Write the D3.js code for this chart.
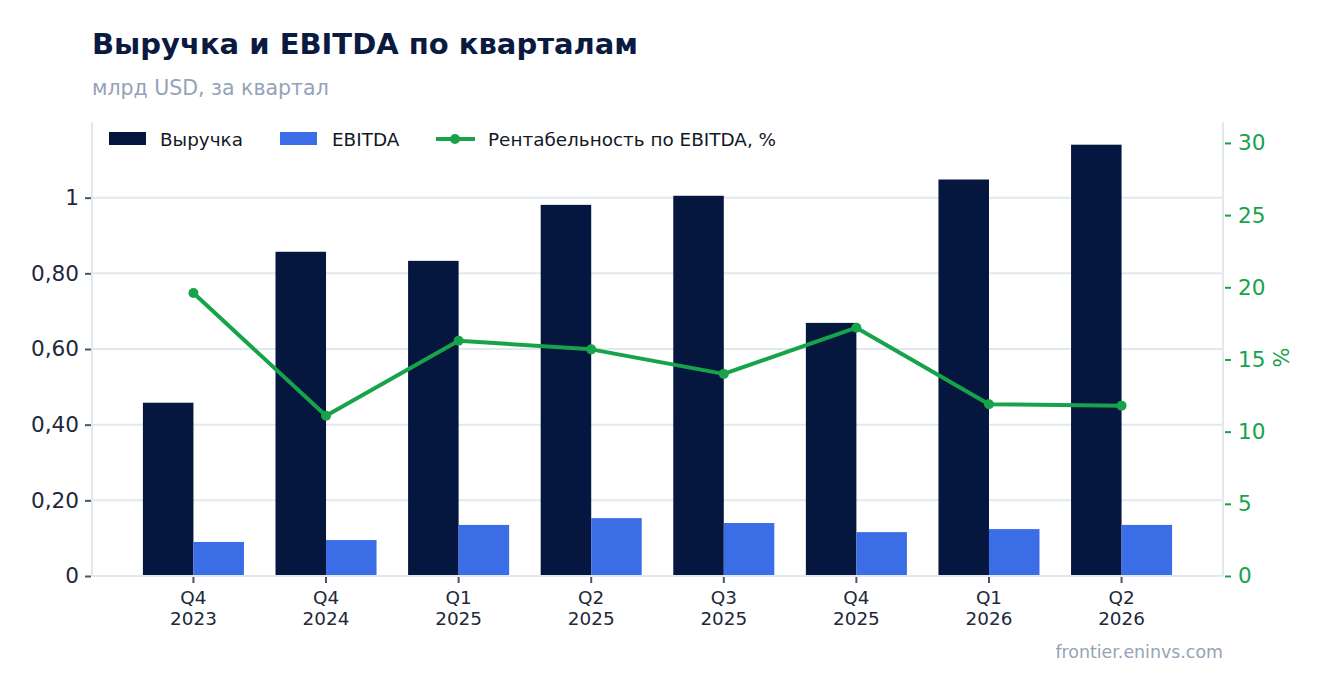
<!DOCTYPE html>
<html>
<head>
<meta charset="utf-8">
<script src="https://cdn.jsdelivr.net/npm/d3@7"></script>
<style>
  body { margin: 0; background: #fff; }
  svg text { font-family: "DejaVu Sans", sans-serif; }
</style>
</head>
<body>
<div id="chart"></div>
<script>
// data
const quarters = ["Q4", "Q4", "Q1", "Q2", "Q3", "Q4", "Q1", "Q2"];
const years = ["2023", "2024", "2025", "2025", "2025", "2025", "2026", "2026"];
const revenue = [0.458, 0.857, 0.833, 0.981, 1.005, 0.669, 1.048, 1.140];
const ebitda = [0.090, 0.095, 0.135, 0.153, 0.140, 0.116, 0.124, 0.135];
const margin = [19.6, 11.1, 16.3, 15.7, 14.0, 17.2, 11.9, 11.8];
const leftTicks = [0, 0.2, 0.4, 0.6, 0.8, 1];
const leftTickLabels = ["0", "0,20", "0,40", "0,60", "0,80", "1"];
const rightTicks = [0, 5, 10, 15, 20, 25, 30];

// colours
const navy = "#05163f";
const blue = "#3b6de7";
const green = "#16a34a";
const grid = "#e2e8f0";
const grey = "#94a3b8";
const ink = "#1e293b";

const W = 1323, H = 693;
const plot = { left: 92, right: 1223, top: 122, bottom: 576 };

const svg = d3.select("#chart").append("svg")
  .attr("width", W).attr("height", H);

// title
svg.append("text").attr("x", 92).attr("y", 54)
  .style("font-size", "29px").style("font-weight", "bold").style("fill", "#0b1a40")
  .text("Выручка и EBITDA по кварталам");
svg.append("text").attr("x", 92).attr("y", 95)
  .style("font-size", "20.5px").style("fill", grey)
  .text("млрд USD, за квартал");

const keys = quarters.map((q, i) => q + " " + years[i] + "#" + i);

const x = d3.scaleBand()
  .domain(keys)
  .range([plot.left, plot.right])
  .paddingInner(0.238)
  .paddingOuter(0.384);

const xSub = d3.scaleBand()
  .domain(["rev", "ebitda"])
  .range([0, x.bandwidth()]);

const y = d3.scaleLinear().domain([0, 1.2]).range([plot.bottom, plot.top]);
const y2 = d3.scaleLinear().domain([0, 31.45]).range([plot.bottom, plot.top]);

// gridlines
svg.append("g").selectAll("line")
  .data(leftTicks.filter(d => d > 0))
  .enter().append("line")
  .attr("x1", plot.left).attr("x2", plot.right)
  .attr("y1", d => y(d)).attr("y2", d => y(d))
  .attr("stroke", grid).attr("stroke-width", 2);

// axis lines
svg.append("line").attr("x1", plot.left).attr("x2", plot.left)
  .attr("y1", plot.top).attr("y2", plot.bottom)
  .attr("stroke", grid).attr("stroke-width", 2);
svg.append("line").attr("x1", plot.right).attr("x2", plot.right)
  .attr("y1", plot.top).attr("y2", plot.bottom)
  .attr("stroke", grid).attr("stroke-width", 2);

// bars
const groups = svg.append("g").selectAll("g")
  .data(keys)
  .enter().append("g")
  .attr("transform", d => `translate(${x(d)},0)`);

groups.append("rect")
  .attr("x", xSub("rev"))
  .attr("width", xSub.bandwidth())
  .attr("y", (d, i) => y(revenue[i]))
  .attr("height", (d, i) => y(0) - y(revenue[i]))
  .attr("fill", navy);

groups.append("rect")
  .attr("x", xSub("ebitda"))
  .attr("width", xSub.bandwidth())
  .attr("y", (d, i) => y(ebitda[i]))
  .attr("height", (d, i) => y(0) - y(ebitda[i]))
  .attr("fill", blue);

// bottom axis line
svg.append("line").attr("x1", plot.left).attr("x2", plot.right)
  .attr("y1", plot.bottom).attr("y2", plot.bottom)
  .attr("stroke", grid).attr("stroke-width", 2);

// x axis
const xAxis = svg.append("g")
  .attr("transform", `translate(0,${plot.bottom + 1})`)
  .call(d3.axisBottom(x).tickSize(6).tickSizeOuter(0).tickFormat(""));
xAxis.select(".domain").remove();
xAxis.selectAll(".tick line").attr("stroke", "#475569").attr("stroke-width", 2);
xAxis.selectAll(".tick").each(function (d, i) {
  const t = d3.select(this).append("text")
    .attr("fill", ink).style("font-size", "18.4px").attr("text-anchor", "middle");
  t.append("tspan").attr("x", 0).attr("y", 27).text(quarters[i]);
  t.append("tspan").attr("x", 0).attr("y", 48).text(years[i]);
});

// left axis
const yAxis = svg.append("g")
  .attr("transform", `translate(${plot.left - 1},0)`)
  .call(d3.axisLeft(y).tickValues(leftTicks).tickSize(6).tickPadding(6)
    .tickFormat((d, i) => leftTickLabels[i]));
yAxis.select(".domain").remove();
yAxis.selectAll(".tick line").attr("stroke", "#475569").attr("stroke-width", 2);
yAxis.selectAll(".tick text").attr("fill", ink).style("font-size", "21.6px");

// right axis
const y2Axis = svg.append("g")
  .attr("transform", `translate(${plot.right + 2},0)`)
  .call(d3.axisRight(y2).tickValues(rightTicks).tickSize(6).tickPadding(7));
y2Axis.select(".domain").remove();
y2Axis.selectAll(".tick line").attr("stroke", green).attr("stroke-width", 2);
y2Axis.selectAll(".tick text").attr("fill", green).style("font-size", "21.6px");

svg.append("text")
  .attr("transform", `translate(1289,${y2(15) - 2}) rotate(-90)`)
  .attr("text-anchor", "middle")
  .style("font-size", "21px").style("fill", green)
  .text("%");

// margin line
const cx = (d, i) => x(keys[i]) + x.bandwidth() / 2;
const line = d3.line()
  .x((d, i) => cx(d, i))
  .y(d => y2(d));

svg.append("path")
  .datum(margin)
  .attr("d", line)
  .attr("fill", "none")
  .attr("stroke", green)
  .attr("stroke-width", 4)
  .attr("stroke-linejoin", "round");

svg.append("g").selectAll("circle")
  .data(margin)
  .enter().append("circle")
  .attr("cx", cx)
  .attr("cy", d => y2(d))
  .attr("r", 5)
  .attr("fill", green);

// legend
const legend = svg.append("g").attr("transform", "translate(0,139)");
legend.append("rect").attr("x", 109).attr("y", -7).attr("width", 37).attr("height", 13).attr("fill", navy);
legend.append("text").attr("x", 160).attr("y", 6.5).style("font-size", "18.4px").style("fill", "#111827").text("Выручка");
legend.append("rect").attr("x", 280).attr("y", -7).attr("width", 37).attr("height", 13).attr("fill", blue);
legend.append("text").attr("x", 332).attr("y", 6.5).style("font-size", "18.4px").style("fill", "#111827").text("EBITDA");
legend.append("line").attr("x1", 436).attr("x2", 475).attr("y1", 0).attr("y2", 0)
  .attr("stroke", green).attr("stroke-width", 4);
legend.append("circle").attr("cx", 455).attr("cy", 0).attr("r", 5).attr("fill", green);
legend.append("text").attr("x", 488).attr("y", 6.5).style("font-size", "18.4px").style("fill", "#111827")
  .text("Рентабельность по EBITDA, %");

// footer
svg.append("text").attr("x", plot.right).attr("y", 658)
  .attr("text-anchor", "end")
  .style("font-size", "17.4px").style("fill", grey)
  .text("frontier.eninvs.com");
</script>
</body>
</html>
